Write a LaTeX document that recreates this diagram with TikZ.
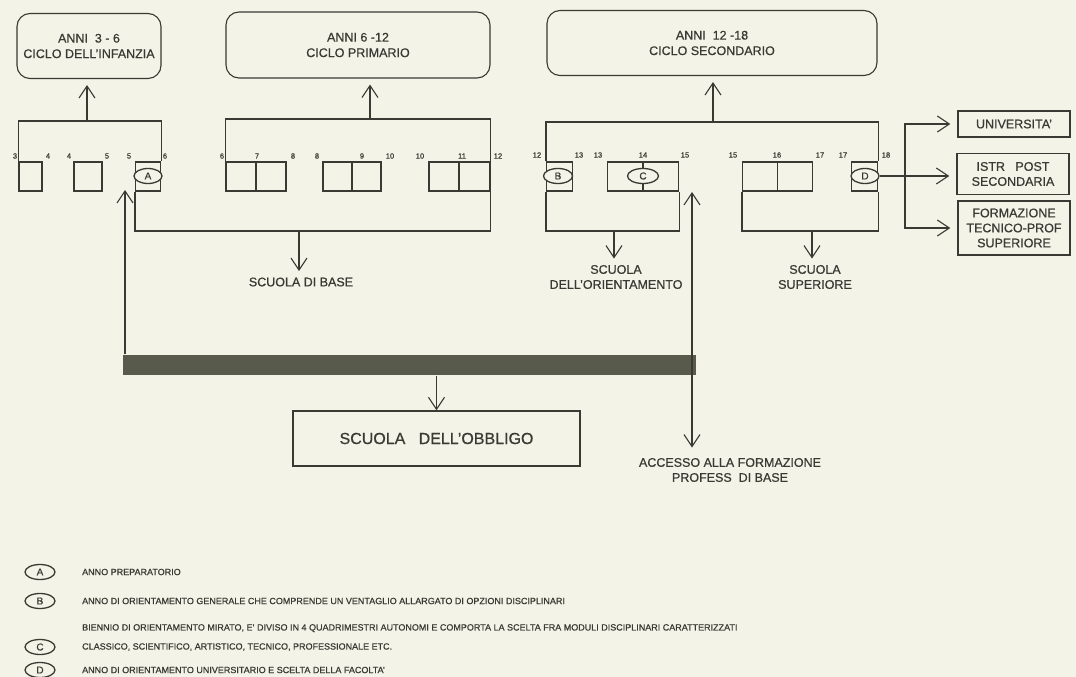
\documentclass[tikz,border=0pt]{standalone}
\usepackage{fontspec}
\setsansfont{Liberation Sans}[FakeBold=0.7]
\usepackage{tikz}
\usetikzlibrary{shapes.geometric,arrows.meta}
\usetikzlibrary{positioning}
\definecolor{paper}{RGB}{243,244,231}
\definecolor{ink}{RGB}{58,58,52}
\definecolor{band}{RGB}{88,91,76}

\begin{document}
\begin{tikzpicture}[x=1pt, y=-1pt, color=ink, line width=1.1pt, >={Straight Barb[length=12pt,width=16pt]},
	ciclo/.style={draw, rounded corners=13pt, align=center, inner sep=0pt, font=\fontsize{12.5}{15.5}\selectfont},
	anno/.style={draw, minimum height=29, inner sep=0pt},
	sigla/.style={draw, ellipse, line width=1.3pt, fill=paper, minimum width=28, minimum height=15, inner sep=0pt, font=\fontsize{10}{10}\selectfont},
	eta/.style={inner sep=0pt, font=\fontsize{7.5}{7.5}\selectfont},
	scuola/.style={align=center, inner sep=0pt, font=\fontsize{12.5}{15}\selectfont},
	uscita/.style={draw, line width=1.4pt, minimum width=112, align=center, inner sep=0pt, font=\fontsize{12.5}{15}\selectfont},
	voce/.style={anchor=west, inner sep=0pt, font=\fontsize{9}{9}\selectfont},
	su/.style={->, shorten >=6pt}]
			\sffamily
			\path[fill=paper, use as bounding box] (0,0) rectangle (1076,677);
			\node[ciclo, minimum width=144, minimum height=65] (Infanzia) at (89,46) {ANNI\ \ 3 - 6\\CICLO DELL'INFANZIA};
			\node[ciclo, minimum width=264, minimum height=66] (Primario) at (358,45) {ANNI\ 6 -12\\CICLO PRIMARIO};
			\node[ciclo, minimum width=330, minimum height=65] (Secondario) at (712,43) {ANNI\ \ 12 -18\\CICLO SECONDARIO};
			\node[anno, minimum width=23] (A34) at (30.5,176.5) {};
			\node[anno, minimum width=28] (A45) at (88,176.5) {};
			\node[anno, minimum width=25] (A56) at (148,176.5) {};
			\node[anno, minimum width=30] (A67) at (241,176.5) {};
			\node[anno, minimum width=30] (A78) at (271,176.5) {};
			\node[anno, minimum width=29] (A89) at (337.5,176.5) {};
			\node[anno, minimum width=29] (A910) at (366.5,176.5) {};
			\node[anno, minimum width=30] (A1011) at (444,176.5) {};
			\node[anno, minimum width=31] (A1112) at (474.5,176.5) {};
			\node[anno, minimum width=26] (A1213) at (559.5,176.5) {};
			\node[anno, minimum width=71] (A1315) at (643,176.5) {};
			\node[anno, minimum width=35] (A1516) at (760,176.5) {};
			\node[anno, minimum width=35] (A1617) at (795,176.5) {};
			\node[anno, minimum width=26] (A1718) at (864.5,176.5) {};
			\node[sigla] (SiglaA) at (148,176) {A};
			\node[sigla, minimum width=29] (SiglaB) at (558,176) {B};
			\node[sigla, minimum width=31] (SiglaC) at (643,176) {C};
			\node[sigla] (SiglaD) at (865,176) {D};
			\draw (SiglaC.north) -- (A1315.north);
			\draw (SiglaC.south) -- (A1315.south);
			\node[eta] (E1) at (15,156) {3};
			\node[eta] (E2) at (48,156) {4};
			\node[eta] (E3) at (69,156) {4};
			\node[eta] (E4) at (107,156) {5};
			\node[eta] (E5) at (129,156) {5};
			\node[eta] (E6) at (165,156) {6};
			\node[eta] (E7) at (222,156) {6};
			\node[eta] (E8) at (257,156) {7};
			\node[eta] (E9) at (293,156) {8};
			\node[eta] (E10) at (317,156) {8};
			\node[eta] (E11) at (362,156) {9};
			\node[eta] (E12) at (390,156) {10};
			\node[eta] (E13) at (420,156) {10};
			\node[eta] (E14) at (462,156) {11};
			\node[eta] (E15) at (498,156) {12};
			\node[eta] (E16) at (537,155) {12};
			\node[eta] (E17) at (579,155) {13};
			\node[eta] (E18) at (598,155) {13};
			\node[eta] (E19) at (643,155) {14};
			\node[eta] (E20) at (685,155) {15};
			\node[eta] (E21) at (733,155) {15};
			\node[eta] (E22) at (777,155) {16};
			\node[eta] (E23) at (820,155) {17};
			\node[eta] (E24) at (843,155) {17};
			\node[eta] (E25) at (886,155) {18};
			\coordinate (Cima1) at (87,121);
			\coordinate (Cima2) at (370,119);
			\coordinate (Cima3) at (713,122);
			\draw (A34.north west) |- (Cima1) -| (A56.north east);
			\draw (A67.north west) |- (Cima2) -| (A1112.north east);
			\draw (A1213.north west) |- (Cima3) -| (A1718.north east);
			\draw[su] (Cima1) -- (Cima1 |- Infanzia.south);
			\draw[su] (Cima2) -- (Cima2 |- Primario.south);
			\draw[su] (Cima3) -- (Cima3 |- Secondario.south);
			\node[scuola] (ScuolaBase) at (301,282) {SCUOLA DI BASE};
			\node[scuola] (ScuolaOrient) at (616,277) {SCUOLA\\DELL'ORIENTAMENTO};
			\node[scuola] (ScuolaSup) at (815,277) {SCUOLA\\SUPERIORE};
			\coordinate (Base) at (299,231);
			\coordinate (Orient) at (614,231);
			\coordinate (Super) at (812,231);
			\draw (A56.south west) |- (Base) -| (A1112.south east);
			\draw (A1213.south west) |- (Orient) -| (A1315.south east);
			\draw (A1516.south west) |- (Super) -| (A1718.south east);
			\draw[su] (Base) -- (Base |- ScuolaBase.north);
			\draw[su] (Orient) -- (Orient |- ScuolaOrient.north);
			\draw[su] (Super) -- (Super |- ScuolaSup.north);
			\node[uscita, minimum height=26] (Univ) at (1014,124) {UNIVERSITA'};
			\node[uscita, minimum height=41] (Istr) at (1013,174) {ISTR\ \ \ POST\\SECONDARIA};
			\node[uscita, minimum height=54] (Formaz) at (1014,228) {FORMAZIONE\\TECNICO-PROF\\SUPERIORE};
			\coordinate (Bivio) at (905,176);
			\draw[->, shorten >=7pt] (SiglaD) -- (SiglaD -| Istr.west);
			\draw[<->, shorten >=7pt, shorten <=7pt] (Univ.west) -| (Bivio) |- (Formaz.west);
			\node[fill=band, minimum width=573, minimum height=20, inner sep=0pt] (Banda) at (409.5,365) {};
			\node[draw, line width=1.4pt, minimum width=287, minimum height=55, font=\fontsize{16}{16}\selectfont] (Obbligo) at (436.5,438.5) {SCUOLA\ \ \ DELL'OBBLIGO};
			\node[scuola] (Accesso) at (730,470) {ACCESSO ALLA FORMAZIONE\\PROFESS\ \ DI BASE};
			\coordinate (Ingresso) at (125,190);
			\coordinate (AccessoSu) at (692,192);
			\draw[->] (Ingresso |- Banda.north) -- (Ingresso);
			\draw[->] (Banda.south -| Obbligo.north) -- (Obbligo.north);
			\draw[<->, shorten >=10pt] (AccessoSu) -- (AccessoSu |- Accesso.north);
			\node[sigla, minimum width=30] (LegA) at (40,572) {A};
			\node[sigla, minimum width=30] (LegB) at (40,601) {B};
			\node[sigla, minimum width=30] (LegC) at (40,647) {C};
			\node[sigla, minimum width=30] (LegD) at (40,670) {D};
			\node[voce, right=26pt of LegA] (VoceA) {ANNO PREPARATORIO};
			\node[voce, right=26pt of LegB] (VoceB) {ANNO DI ORIENTAMENTO GENERALE CHE COMPRENDE UN VENTAGLIO ALLARGATO DI OPZIONI DISCIPLINARI};
			\node[voce, right=26pt of LegC] (VoceC) {CLASSICO, SCIENTIFICO, ARTISTICO, TECNICO, PROFESSIONALE ETC.};
			\node[voce, above=10pt of VoceC.north west, anchor=south west] (VoceC1) {BIENNIO DI ORIENTAMENTO MIRATO, E' DIVISO IN 4 QUADRIMESTRI AUTONOMI E COMPORTA LA SCELTA FRA MODULI DISCIPLINARI CARATTERIZZATI};
			\node[voce, right=26pt of LegD] (VoceD) {ANNO DI ORIENTAMENTO UNIVERSITARIO E SCELTA DELLA FACOLTA'};
		\end{tikzpicture}
\end{document}
